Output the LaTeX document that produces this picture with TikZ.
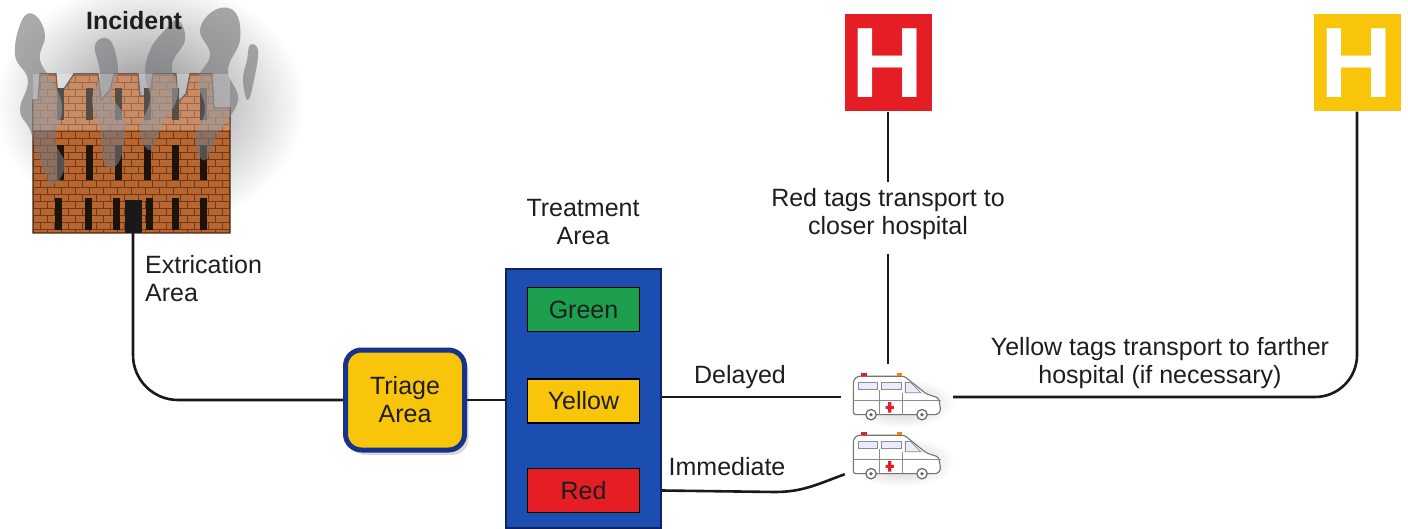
\documentclass[tikz,border=0pt]{standalone}
\usepackage{fontspec}
\setmainfont{Liberation Sans}
\usetikzlibrary{shadows}

\definecolor{tagyellow}{RGB}{248,197,10}
\definecolor{tagred}{RGB}{228,30,36}
\definecolor{taggreen}{RGB}{28,160,78}
\definecolor{areablue}{RGB}{28,78,178}
\definecolor{navy}{RGB}{22,50,140}
\definecolor{brick}{RGB}{184,102,48}
\definecolor{mortar}{RGB}{112,56,26}
\definecolor{smoke}{RGB}{118,118,122}
\definecolor{ink}{RGB}{30,30,30}

% outline of the burning house
\newcommand{\bldgpath}{(33,233) -- (33,100) -- (38,100) -- (40,74) -- (56,74) -- (58,98)
  -- (70,80) -- (74,74) -- (98,74) -- (101,100) -- (110,90) -- (114,74) -- (138,74)
  -- (140,96) -- (150,96) -- (153,74) -- (176,74) -- (178,102) -- (186,94) -- (190,74)
  -- (212,74) -- (214,108) -- (230,108) -- (230,233) -- cycle}

\begin{document}
\begin{tikzpicture}[x=1pt,y=-1pt,
  txt/.style={text=ink,font=\fontsize{25}{28}\selectfont,align=center,inner sep=0pt},
  link/.style={line width=2.6pt,black!90},
  tagbox/.style={draw=black,line width=1.6pt,minimum width=112,minimum height=44,inner sep=0pt,text=ink,font=\fontsize{25}{28}\selectfont},
  hsign/.style={minimum width=87,minimum height=97,inner sep=0pt,text=white,font=\fontsize{100}{100}\selectfont\bfseries},
  van/.style={draw=black!55,line width=1.1pt,fill=white},
  trim/.style={draw=black!45,line width=.8pt}]
\path[use as bounding box] (0,0) rectangle (1408,529);

% haze round the fire
\shade[inner color=smoke!85,outer color=white] (150,105) ellipse[x radius=155,y radius=125];

% house
\fill[brick] \bldgpath;
\begin{scope}
\clip \bldgpath;
\foreach \r in {0,...,22}{
  \draw[mortar,line width=.6pt] (33,{75+7*\r}) -- (230,{75+7*\r});
  \pgfmathsetmacro\off{mod(\r,2)*7}
  \foreach \c in {0,14,...,196}
    \draw[mortar,line width=.6pt] ({33+\c+\off},{75+7*\r}) -- ++(0,7);
}
\end{scope}
\draw[mortar!70!black,line width=1.2pt] \bldgpath;
\foreach \wx in {60,89,118,147,175,203}{
  \fill[black!85!brown] (\wx-3.5,88) rectangle (\wx+3.5,120);
  \fill[black!85!brown] (\wx-3.5,145) rectangle (\wx+3.5,180);
}
\foreach \wx in {58,88,116,149,175,203}
  \fill[black!85!brown] (\wx-3.5,198) rectangle (\wx+3.5,230);
\fill[black!90] (125,200) rectangle (142,233);

% smoke
\begin{scope}[fill=smoke,opacity=.62]
\fill plot[smooth cycle,tension=.7] coordinates {(22,20) (35,15) (45,35) (40,60) (55,85) (62,110) (55,140) (65,165) (52,185) (40,160) (30,130) (20,110) (28,80) (15,55)};
\fill plot[smooth cycle,tension=.7] coordinates {(95,45) (110,40) (118,70) (112,95) (125,120) (120,160) (105,165) (100,130) (92,100) (100,75)};
\fill plot[smooth cycle,tension=.7] coordinates {(150,50) (165,30) (178,20) (185,40) (172,65) (178,95) (162,125) (150,150) (140,130) (150,100) (145,75)};
\fill plot[smooth cycle,tension=.7] coordinates {(200,30) (215,10) (235,12) (240,40) (228,70) (238,100) (220,130) (205,160) (195,140) (205,110) (198,80) (210,55)};
\fill plot[smooth cycle,tension=.7] coordinates {(250,45) (258,50) (255,75) (248,100) (243,80) (247,60)};
\end{scope}
\fill[white,opacity=.25] (33,74) rectangle (230,130);

\node[font=\fontsize{25}{28}\selectfont\bfseries,text=ink] (incident) at (134,21) {Incident};
\coordinate (bldg) at (133,233);
\node[txt,anchor=north west,align=left] (extr) at (145,255) {Extrication\\Area};

% triage and treatment
\node[draw=navy,line width=5pt,fill=tagyellow,rounded corners=16pt,minimum width=119,minimum height=100,
  txt,drop shadow={shadow xshift=4pt,shadow yshift=-5pt,opacity=.3}] (triage) at (405,400) {Triage\\Area};
\node[draw=navy!70!black,line width=2pt,fill=areablue,minimum width=155,minimum height=258] (treat) at (583.5,398.5) {};
\node[txt] (treatlbl) at (583,222) {Treatment\\Area};
\node[tagbox,fill=taggreen] (green) at (583.5,309.5) {Green};
\node[tagbox,fill=tagyellow] (yellow) at (583.5,401) {Yellow};
\node[tagbox,fill=tagred] (red) at (583.5,490.5) {Red};

% hospitals
\node[hsign,fill=tagred] (rh) at (888,63) {H};
\node[hsign,fill=tagyellow] (yh) at (1357,63) {H};
\node[txt] (redtxt) at (888,214) {Red tags transport to\\closer hospital};
\node[txt] (yeltxt) at (1160,363) {Yellow tags transport to farther\\hospital (if necessary)};

% ambulances
\node[minimum width=86,minimum height=42,inner sep=0pt] (amb1) at (896,397) {};
\node[minimum width=86,minimum height=42,inner sep=0pt] (amb2) at (896,456) {};
\foreach \a in {amb1,amb2}
  \shade[inner color=black!22,outer color=white,shift={(\a.center)}] (5,6) ellipse[x radius=54,y radius=25];
\foreach \a in {amb1,amb2}{
  \begin{scope}[shift={(\a.center)},scale=1.04]
    \draw[van,rounded corners=2.5pt] (-41,17) -- (-41,-16) -- (-37,-20) -- (8,-20) -- (29,-3)
      -- (41,1) -- (43,13) -- (40,17) -- cycle;
    \draw[trim,fill=blue!8] (-36,-14) rectangle (-18,-7) (-14,-14) rectangle (5,-7);
    \draw[trim,fill=blue!8] (9,-14) -- (14,-14) -- (24,-4) -- (9,-4) -- cycle;
    \draw[trim] (-41,3) -- (43,3) (-16,-7) -- (-16,17) (6,-4) -- (6,17);
    \fill[tagred] (-34,-23) rectangle (-28,-20);
    \fill[orange] (1,-23) rectangle (6,-20);
    \fill[tagred] (-7.5,5) rectangle (-4.5,15) (-10,8.5) rectangle (-2,11.5);
    \draw[black!60,line width=1.2pt,fill=white] (-24,17) circle[radius=5] (25,17) circle[radius=5];
    \fill[black!60] (-24,17) circle[radius=1.8] (25,17) circle[radius=1.8];
  \end{scope}
}

% connectors
\draw[link,rounded corners=45pt] (bldg) |- (triage.west);
\draw[link] (triage.east) -- (triage.east -| treat.west);
\draw[link] (treat.east |- amb1.west) -- ([xshift=-12pt]amb1.west);
\draw[link] (treat.east |- red.east) -- (775,492) to[out=0,in=-160] ([xshift=-8pt,yshift=3pt]amb2.south west);
\node[txt] (delayed) at (740,377) {Delayed};
\node[txt] (immed) at (727,467) {Immediate};
\draw[link] (rh.south) -- ([yshift=6pt]redtxt.north);
\draw[link] ([yshift=-14pt]redtxt.south) -- ([yshift=12pt]amb1.north -| redtxt.south);
\draw[link,rounded corners=42pt] (yh.south) |- ([xshift=14pt]amb1.east);
\end{tikzpicture}
\end{document}
